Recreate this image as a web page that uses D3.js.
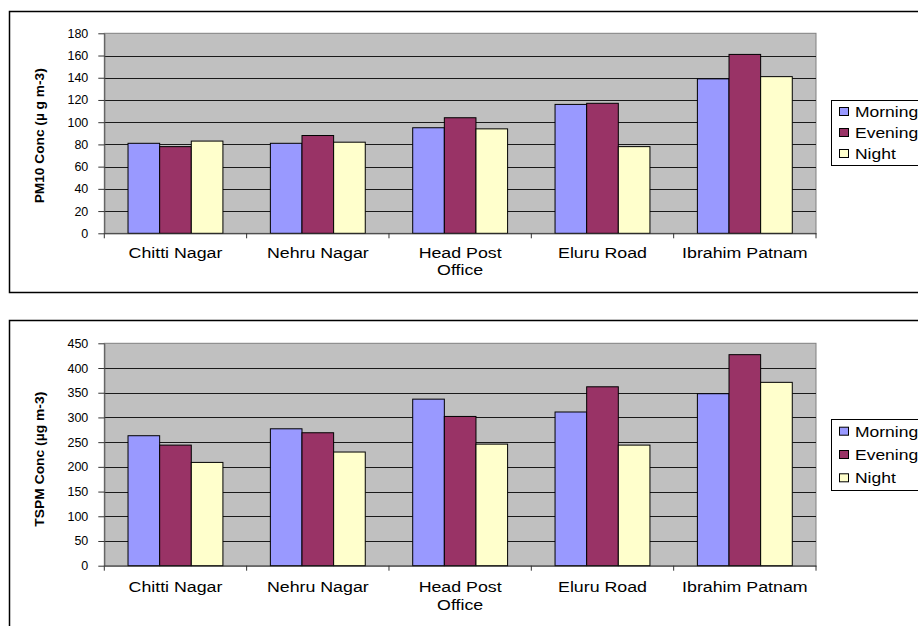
<!DOCTYPE html>
<html>
<head>
<meta charset="utf-8">
<script src="https://cdn.jsdelivr.net/npm/d3@7"></script>
<style>
  body { margin: 0; background: #fff; }
  text { font-family: Arial, "Liberation Sans", sans-serif; fill: #000; }
</style>
</head>
<body>
<div id="canvas"></div>
<script>
const w = 918;
const h = 626;

// data
const categories = ["Chitti Nagar", "Nehru Nagar", "Head Post Office", "Eluru Road", "Ibrahim Patnam"];
const categoryLines = [["Chitti Nagar"], ["Nehru Nagar"], ["Head Post", "Office"], ["Eluru Road"], ["Ibrahim Patnam"]];
const seriesNames = ["Morning", "Evening", "Night"];
const seriesColors = ["#9999FF", "#993366", "#FFFFCC"];

const pm10Morning = [81, 81, 95, 116, 139];
const pm10Evening = [78, 88, 104, 117, 161];
const pm10Night = [83, 82, 94, 78, 141];
const pm10Ticks = [0, 20, 40, 60, 80, 100, 120, 140, 160, 180];

const tspmMorning = [263, 277, 337, 311, 348];
const tspmEvening = [244, 269, 302, 362, 427];
const tspmNight = [209, 230, 246, 244, 371];
const tspmTicks = [0, 50, 100, 150, 200, 250, 300, 350, 400, 450];

const svg = d3.select("#canvas").append("svg").attr("width", w).attr("height", h);

function drawPanel(cfg) {
  const g = svg.append("g");
  // outer chart frame (runs past the right edge)
  g.append("rect").attr("x", 9.5).attr("y", cfg.frameTop).attr("width", 930).attr("height", cfg.frameH)
    .attr("fill", "#fff").attr("stroke", "#000").attr("stroke-width", 1.5);

  const xScale = d3.scaleBand().domain(categories).range([cfg.left, cfg.right]);
  const xInner = d3.scaleBand().domain(seriesNames).range([0, xScale.bandwidth()])
    .paddingInner(0).paddingOuter(0.75);
  const yScale = d3.scaleLinear().domain([0, d3.max(cfg.ticks)]).range([cfg.bottom, cfg.top]);

  // plot area
  g.append("rect").attr("x", cfg.left).attr("y", cfg.top)
    .attr("width", cfg.right - cfg.left).attr("height", cfg.bottom - cfg.top)
    .attr("fill", "#C0C0C0").attr("stroke", "#808080").attr("stroke-width", 1);

  // gridlines
  g.selectAll(".grid").data(cfg.ticks.slice(1, -1)).enter().append("line")
    .attr("x1", cfg.left).attr("x2", cfg.right)
    .attr("y1", d => Math.round(yScale(d)) + 0.5).attr("y2", d => Math.round(yScale(d)) + 0.5)
    .attr("stroke", "#1a1a1a").attr("stroke-width", 1);

  // bars
  const rows = categories.map((c, i) => cfg.series.map((s, j) => ({ cat: c, name: seriesNames[j], v: s[i], j: j })));
  g.selectAll(".grp").data(rows).enter().append("g")
    .attr("transform", (d, i) => "translate(" + xScale(categories[i]) + ",0)")
    .selectAll("rect").data(d => d).enter().append("rect")
    .attr("x", d => xInner(d.name))
    .attr("y", d => yScale(d.v))
    .attr("width", xInner.bandwidth())
    .attr("height", d => cfg.bottom - yScale(d.v))
    .attr("fill", d => seriesColors[d.j])
    .attr("stroke", "#000").attr("stroke-width", 1);

  // y axis
  const yAxis = d3.axisLeft(yScale).tickValues(cfg.ticks).tickSize(6).tickPadding(10).tickSizeOuter(0);
  const ya = g.append("g").attr("transform", "translate(" + cfg.left + ",0)").call(yAxis);
  ya.select(".domain").attr("stroke", "#555");
  ya.selectAll(".tick line").attr("stroke", "#333");
  ya.selectAll("text").attr("font-size", "12.5px").attr("font-family", "Arial, 'Liberation Sans', sans-serif");

  // x axis
  const xAxis = d3.axisBottom(xScale).tickValues([]).tickSizeOuter(0);
  g.append("g").attr("transform", "translate(0," + cfg.bottom + ")").call(xAxis)
    .select(".domain").attr("stroke", "#333");
  const bounds = categories.map(c => xScale(c)).concat([cfg.right]);
  g.selectAll(".xt").data(bounds).enter().append("line")
    .attr("x1", d => d).attr("x2", d => d)
    .attr("y1", cfg.bottom).attr("y2", cfg.bottom + 5)
    .attr("stroke", "#333");

  // category labels
  categories.forEach((c, i) => {
    const cx = xScale(c) + xScale.bandwidth() / 2;
    categoryLines[i].forEach((line, k) => {
      g.append("text")
        .attr("transform", "translate(" + cx + "," + (cfg.bottom + cfg.labelOff + k * cfg.lineGap) + ") scale(1.27,1)")
        .attr("text-anchor", "middle").attr("font-size", "14px").text(line);
    });
  });

  // y title
  g.append("text")
    .attr("transform", "translate(" + cfg.titleX + "," + cfg.titleY + ") rotate(-90)")
    .attr("text-anchor", "middle").attr("font-size", "12.5px").attr("font-weight", "bold")
    .attr("textLength", 135).attr("lengthAdjust", "spacingAndGlyphs")
    .text(cfg.title);

  // legend
  const lg = g.append("g");
  lg.append("rect").attr("x", 831.5).attr("y", cfg.legTop).attr("width", 120).attr("height", cfg.legH)
    .attr("fill", "#fff").attr("stroke", "#000").attr("stroke-width", 1);
  seriesNames.forEach((s, j) => {
    const cy = cfg.legTop + cfg.legFirst + j * cfg.legGap;
    lg.append("rect").attr("x", 839.5).attr("y", cy - 4.5).attr("width", 9).attr("height", 8)
      .attr("fill", seriesColors[j]).attr("stroke", "#000").attr("stroke-width", 1);
    lg.append("text").attr("transform", "translate(855," + (cy + 5) + ") scale(1.25,1)")
      .attr("font-size", "14px").text(s);
  });
}

drawPanel({
  frameTop: 11.5, frameH: 281,
  left: 104.3, right: 816, top: 33.3, bottom: 233.3,
  ticks: pm10Ticks, series: [pm10Morning, pm10Evening, pm10Night],
  labelOff: 24.5, lineGap: 17.5,
  title: "PM10 Conc (\u00b5 g m-3)", titleX: 43.5, titleY: 135.8,
  legTop: 100.5, legH: 65, legFirst: 11.5, legGap: 21
});

drawPanel({
  frameTop: 320.5, frameH: 330,
  left: 104.3, right: 816, top: 343.3, bottom: 565.7,
  ticks: tspmTicks, series: [tspmMorning, tspmEvening, tspmNight],
  labelOff: 26, lineGap: 18.3,
  title: "TSPM Conc  (\u00b5g m-3)", titleX: 43.5, titleY: 459.2,
  legTop: 419.5, legH: 71, legFirst: 12.2, legGap: 23.3
});
</script>
</body>
</html>
